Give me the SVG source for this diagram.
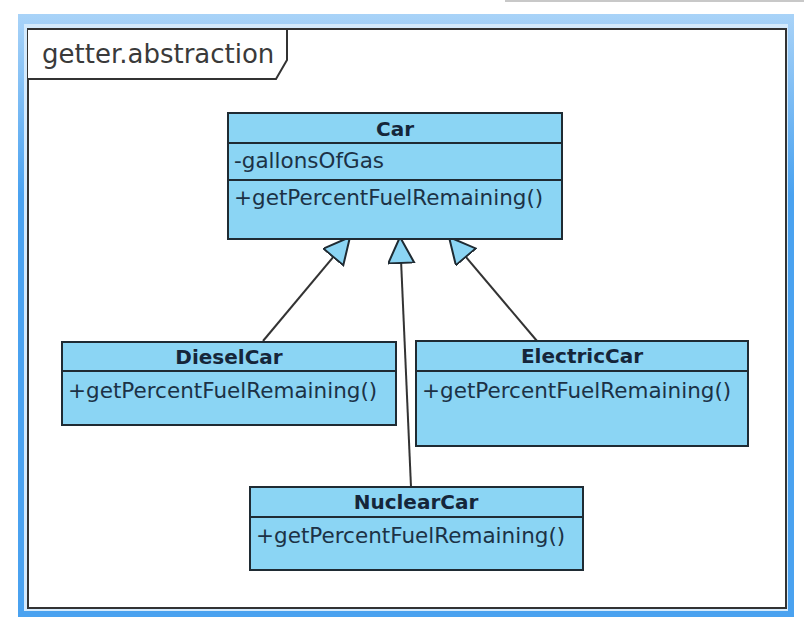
<svg xmlns="http://www.w3.org/2000/svg" width="804" height="625" viewBox="0 0 804 625">
  <style>
    .box { fill: #8bd5f4; stroke: #1f2b33; stroke-width: 2; }
    .sep { stroke: #1f2b33; stroke-width: 2; }
    .title { font-family: "DejaVu Sans", "Liberation Sans", sans-serif; font-weight: bold; font-size: 20px; fill: #15263a; text-anchor: middle; }
    .member { font-family: "DejaVu Sans", "Liberation Sans", sans-serif; font-size: 21.5px; fill: #1c3246; }
    .edge { stroke: #333; stroke-width: 2; fill: none; marker-end: url(#gen); }
  </style>
  <defs>
    <linearGradient id="topband" x1="0" y1="0" x2="0" y2="1">
      <stop offset="0" stop-color="#a9d3f8"/>
      <stop offset="0.3" stop-color="#4aa2f0"/>
      <stop offset="1" stop-color="#4aa2f0"/>
    </linearGradient>
    <marker id="gen" markerUnits="userSpaceOnUse" markerWidth="30" markerHeight="30" refX="27" refY="13" orient="auto">
      <path d="M1,0 L27,13 L1,26 Z" fill="#8bd5f4" stroke="#1f2b33" stroke-width="2"/>
    </marker>
  </defs>
  <rect width="804" height="625" fill="#ffffff"/>
  <line x1="505" y1="1" x2="804" y2="1" stroke="#c8c8c8" stroke-width="2"/>

  <g id="frame">
    <rect x="18" y="14" width="776" height="603" fill="url(#topband)"/>
    <rect x="24" y="24" width="764" height="587" fill="#d4eafc"/>
    <rect x="28" y="29" width="758" height="579" fill="#ffffff" stroke="#333" stroke-width="2"/>
    <path d="M28,29 H287 V60 L276,79 H28" fill="#ffffff" stroke="#333" stroke-width="2"/>
    <text x="42" y="63" font-family="DejaVu Sans, Liberation Sans, sans-serif" font-size="26" fill="#3a3a3a">getter.abstraction</text>
  </g>

  <g id="connectors">
    <line class="edge" x1="263" y1="341" x2="350" y2="237"/>
    <line class="edge" x1="411" y1="487" x2="400" y2="237"/>
    <line class="edge" x1="537" y1="341" x2="449" y2="237"/>
  </g>

  <g id="Car">
    <rect class="box" x="228" y="113" width="334" height="126"/>
    <line class="sep" x1="228" y1="143" x2="562" y2="143"/>
    <line class="sep" x1="228" y1="180" x2="562" y2="180"/>
    <text class="title" x="395" y="136">Car</text>
    <text class="member" x="234" y="168">-gallonsOfGas</text>
    <text class="member" x="234" y="205">+getPercentFuelRemaining()</text>
  </g>

  <g id="DieselCar">
    <rect class="box" x="62" y="342" width="334" height="83"/>
    <line class="sep" x1="62" y1="371" x2="396" y2="371"/>
    <text class="title" x="229" y="364">DieselCar</text>
    <text class="member" x="68" y="398">+getPercentFuelRemaining()</text>
  </g>

  <g id="ElectricCar">
    <rect class="box" x="416" y="341" width="332" height="105"/>
    <line class="sep" x1="416" y1="371" x2="748" y2="371"/>
    <text class="title" x="582" y="363">ElectricCar</text>
    <text class="member" x="422" y="398">+getPercentFuelRemaining()</text>
  </g>

  <g id="NuclearCar">
    <rect class="box" x="250" y="487" width="333" height="83"/>
    <line class="sep" x1="250" y1="517" x2="583" y2="517"/>
    <text class="title" x="416" y="509">NuclearCar</text>
    <text class="member" x="256" y="543">+getPercentFuelRemaining()</text>
  </g>
</svg>
